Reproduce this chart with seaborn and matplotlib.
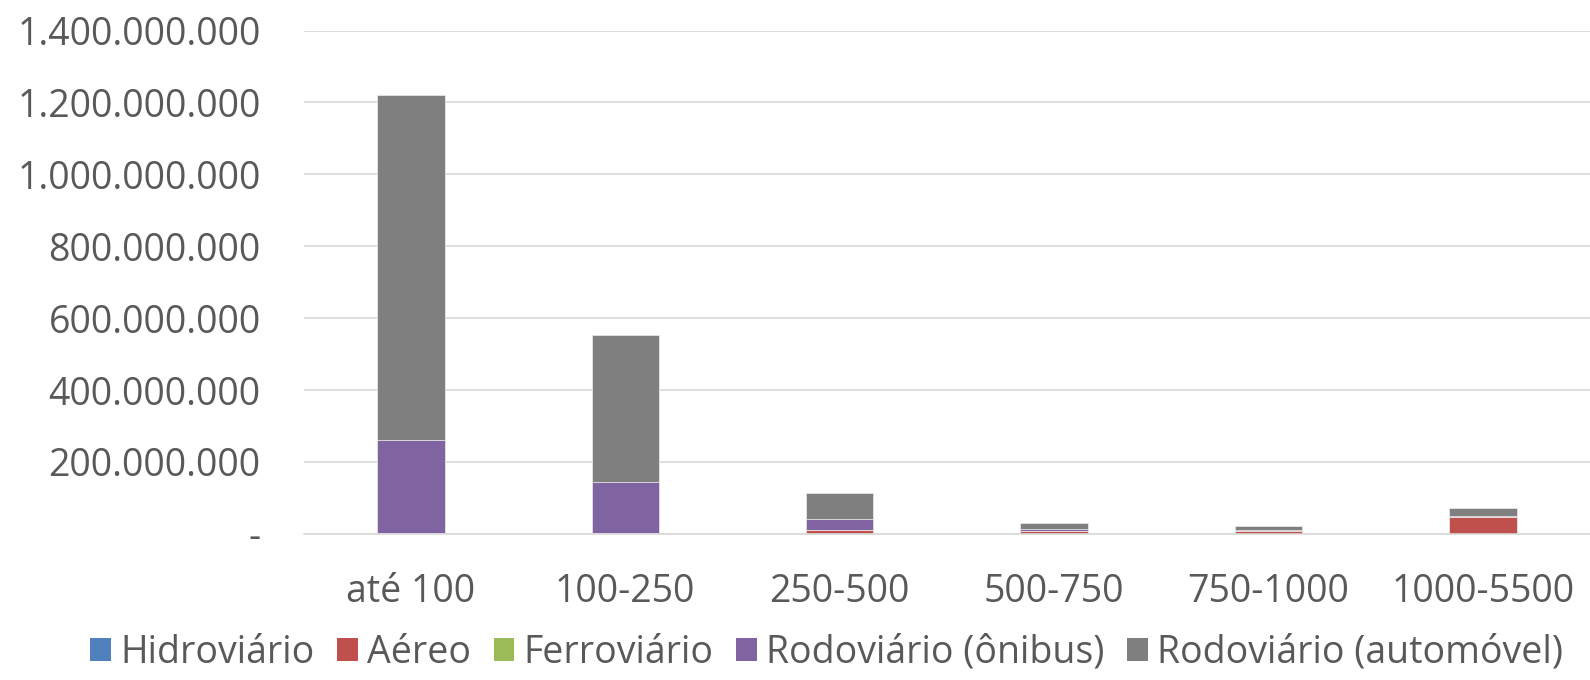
import matplotlib
matplotlib.use("Agg")
import matplotlib.pyplot as plt
import seaborn as sns
import numpy as np
import pandas as pd
from matplotlib.patches import Patch
from matplotlib.ticker import FixedLocator

categories = ["até 100", "100-250", "250-500", "500-750", "750-1000", "1000-5500"]
series_names = ["Hidroviário", "Aéreo", "Ferroviário", "Rodoviário (ônibus)", "Rodoviário (automóvel)"]
hidroviario = [0.5e6, 0.5e6, 0.3e6, 0.2e6, 0.2e6, 0.2e6]
aereo = [2e6, 2e6, 11e6, 7e6, 8e6, 46e6]
ferroviario = [0.5e6, 0.3e6, 0.3e6, 0.2e6, 0.1e6, 0.1e6]
onibus = [257e6, 142e6, 30e6, 5e6, 3e6, 3e6]
automovel = [960e6, 408e6, 71e6, 17e6, 11e6, 23e6]
colors = ["#4F81BD", "#C0504D", "#9BBB59", "#8064A2", "#7F7F7F"]
ytick_vals = [0, 200e6, 400e6, 600e6, 800e6, 1000e6, 1200e6, 1400e6]
ytick_labels = ["-", "200.000.000", "400.000.000", "600.000.000", "800.000.000",
                "1.000.000.000", "1.200.000.000", "1.400.000.000"]

sns.set_theme(style="white")
plt.rcParams['font.family'] = ['Open Sans', 'DejaVu Sans']
text_color = "#595959"

fig = plt.figure(figsize=(15.9, 6.8), dpi=100)
ax = fig.add_axes([0.191, 0.215, 0.809, 0.74])

data = np.array([hidroviario, aereo, ferroviario, onibus, automovel])
cum = np.cumsum(data, axis=0)

# draw from top of stack downward so lower segments overlay
for i in range(len(series_names) - 1, -1, -1):
    df = pd.DataFrame({"cat": categories, "val": cum[i]})
    sns.barplot(data=df, x="cat", y="val", color=colors[i], ax=ax,
                width=0.315, saturation=1, edgecolor="#e6e6e6", linewidth=0.6,
                order=categories)

ax.set_xlim(-0.5, 5.5)
ax.set_ylim(0, 1400e6)
ax.yaxis.set_major_locator(FixedLocator(ytick_vals))
ax.set_yticklabels(ytick_labels)
ax.grid(axis="y", color="#d9d9d9", linewidth=1.2)
ax.set_axisbelow(True)
for s in ["top", "right", "left"]:
    ax.spines[s].set_visible(False)
ax.spines["bottom"].set_color("#d9d9d9")
ax.spines["bottom"].set_linewidth(1.2)
ax.tick_params(axis="both", length=0, labelsize=27, colors=text_color)
ax.tick_params(axis="x", pad=28)
ax.tick_params(axis="y", pad=31)
ax.set_xlabel("")
ax.set_ylabel("")

handles = [Patch(facecolor=c, edgecolor="none") for c in colors]
fig.legend(handles, series_names, loc="center", bbox_to_anchor=(0.52, 0.04), ncol=5,
           frameon=False, fontsize=27, labelcolor=text_color, handlelength=0.55,
           handleheight=0.55, handletextpad=0.25, columnspacing=0.6)

fig.savefig("out.png", dpi=100)
